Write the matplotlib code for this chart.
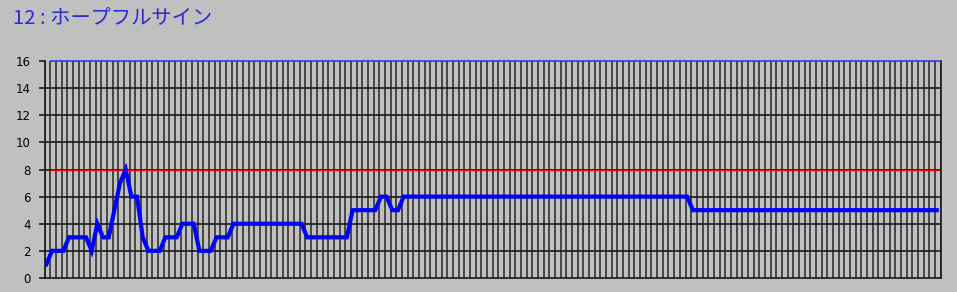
import numpy as np
import matplotlib
matplotlib.use('Agg')
import matplotlib.pyplot as plt

plt.rcParams['font.family'] = ['Noto Sans CJK JP', 'DejaVu Sans']

title = '12 : ホープフルサイン'

# value per race (one point per category)
segments = [(1, 1), (2, 3), (3, 4), (2, 1), (4, 1), (3, 2), (5, 1), (7, 1), (8, 1),
            (6, 2), (3, 1), (2, 3), (3, 3), (4, 3), (2, 3), (3, 3), (4, 13), (3, 8),
            (5, 5), (6, 2), (5, 2), (6, 51), (5, 44)]
values = []
for v, n in segments:
    values += [v] * n
values = np.array(values)
n = len(values)
x = np.arange(n)

ref_top = 16
ref_mid = 8
yticks = [0, 2, 4, 6, 8, 10, 12, 14, 16]

bg = '#c0c0c0'
fig = plt.figure(figsize=(9.57, 2.92), dpi=100, facecolor=bg)
ax = fig.add_axes([0.0466, 0.048, 0.9364, 0.743])
ax.set_facecolor(bg)

# vertical lines at category boundaries
for b in np.arange(n + 1) - 0.3:
    ax.axvline(b, color='#262626', lw=1.1, zorder=1)
for t in yticks[1:-1]:
    ax.axhline(t, color='#1a1a1a', lw=1.2, zorder=1)

ax.hlines(ref_top, 0.6, n - 0.5, color='#2a2aff', lw=1.1, zorder=4, clip_on=False)
ax.hlines(ref_mid, 0.6, n - 0.6, color='#ff0000', lw=0.8, zorder=2)

ax.plot(x, values, color='#0000ff', lw=3, zorder=3, solid_joinstyle='miter')

ax.set_xlim(-0.3, n - 0.3)
ax.set_ylim(0, 16)
ax.set_yticks(yticks)
ax.set_xticks([])
ax.tick_params(axis='y', direction='out', length=4, width=1.2, color='#1a1a1a',
               labelsize=8.5, pad=6, labelcolor='black')
for lab in ax.get_yticklabels():
    lab.set_family('DejaVu Sans')
for s in ['left', 'bottom', 'right']:
    ax.spines[s].set_color('#1a1a1a')
    ax.spines[s].set_linewidth(1.2)
ax.spines['top'].set_visible(False)

fig.text(0.0136, 0.935, title, color='#2b2bd0', fontsize=14.6, va='center', ha='left')

fig.savefig('out.png', dpi=100, facecolor=bg)
